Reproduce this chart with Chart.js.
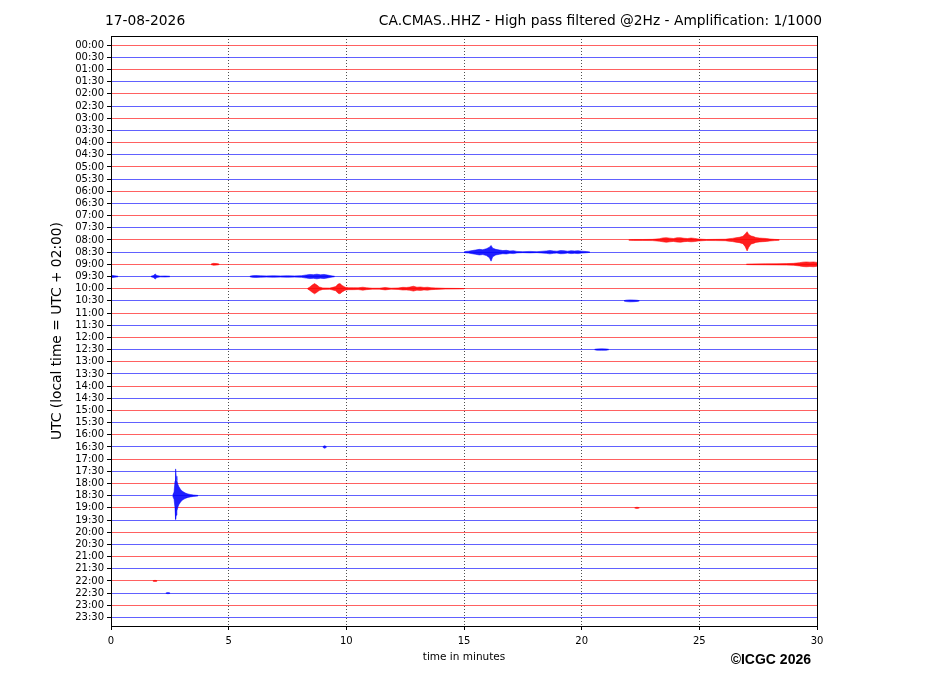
<!DOCTYPE html>
<html>
<head>
<meta charset="utf-8">
<script src="https://cdn.jsdelivr.net/npm/chart.js@4.4.1/dist/chart.umd.min.js"></script>
<style>
html,body{margin:0;padding:0;background:#fff;}
#wrap{width:927px;height:696px;position:relative;}
</style>
</head>
<body>
<div id="wrap"><canvas id="c" width="927" height="696"></canvas></div>
<script>
// ---- data ----
const dateLabel = "17-08-2026";
const titleText = "CA.CMAS..HHZ - High pass filtered @2Hz - Amplification: 1/1000";
const yTitle = "UTC (local time = UTC + 02:00)";
const xTitle = "time in minutes";
const creditText = "\u00A9ICGC 2026";
const rowLabels = ["00:00","00:30","01:00","01:30","02:00","02:30","03:00","03:30","04:00","04:30","05:00","05:30",
  "06:00","06:30","07:00","07:30","08:00","08:30","09:00","09:30","10:00","10:30","11:00","11:30",
  "12:00","12:30","13:00","13:30","14:00","14:30","15:00","15:30","16:00","16:30","17:00","17:30",
  "18:00","18:30","19:00","19:30","20:00","20:30","21:00","21:30","22:00","22:30","23:00","23:30"];
const xTicks = [0,5,10,15,20,25,30];

// envelopes of seismic signal: [minute, amplitude up, amplitude down] (in trace-row units)
const ev0800a = [[22.0,0.02,0.02],[22.2,0.04,0.04],[22.6,0.04,0.04],[23.0,0.05,0.05],[23.3,0.1,0.1],[23.45,0.17,0.15],[23.6,0.19,0.19],
  [23.75,0.15,0.15],[23.9,0.12,0.12],[24.05,0.18,0.17],[24.2,0.19,0.19],[24.35,0.14,0.14],[24.5,0.12,0.12],[24.65,0.16,0.15],
  [24.8,0.13,0.13],[24.95,0.08,0.08],[25.3,0.04,0.04],[25.7,0.05,0.05],[26.1,0.06,0.06],[26.25,0.1,0.1],[26.4,0.13,0.13],
  [26.55,0.18,0.18],[26.7,0.22,0.22],[26.85,0.3,0.3],[26.95,0.5,0.55],[27.03,0.68,0.9],[27.1,0.45,0.6],[27.2,0.33,0.33],
  [27.3,0.28,0.28],[27.4,0.2,0.2],[27.55,0.16,0.16],[27.7,0.14,0.14],[27.85,0.12,0.12],[28.0,0.08,0.08],[28.2,0.05,0.05],[28.4,0.03,0.03]];
const ev0830a = [[15.0,0.02,0.02],[15.05,0.05,0.05],[15.2,0.08,0.08],[15.35,0.13,0.13],[15.5,0.18,0.18],[15.65,0.23,0.23],[15.8,0.2,0.2],
  [15.95,0.28,0.28],[16.08,0.4,0.45],[16.15,0.55,0.74],[16.22,0.33,0.38],[16.35,0.23,0.23],[16.5,0.18,0.18],[16.65,0.13,0.13],
  [16.8,0.15,0.15],[16.95,0.1,0.1],[17.1,0.12,0.12],[17.25,0.06,0.06],[17.5,0.04,0.04],[17.8,0.06,0.06],[18.1,0.04,0.04],
  [18.5,0.1,0.1],[18.65,0.14,0.14],[18.8,0.1,0.1],[18.95,0.08,0.08],[19.1,0.13,0.13],[19.25,0.12,0.12],[19.4,0.08,0.08],
  [19.55,0.12,0.12],[19.7,0.1,0.1],[19.85,0.12,0.12],[20.0,0.08,0.08],[20.2,0.05,0.05],[20.35,0.02,0.02]];
const ev0900a = [[4.25,0.02,0.02],[4.35,0.08,0.08],[4.5,0.06,0.06],[4.6,0.02,0.02]];
const ev0900b = [[27.0,0.02,0.02],[27.2,0.03,0.03],[27.8,0.04,0.04],[28.3,0.05,0.05],[28.7,0.06,0.06],
  [29.0,0.08,0.08],[29.25,0.13,0.13],[29.4,0.18,0.18],[29.55,0.2,0.2],[29.7,0.18,0.18],[29.85,0.2,0.2],[30.0,0.16,0.16]];
const ev0930a = [[0.0,0.1,0.1],[0.15,0.06,0.06],[0.3,0.02,0.02]];
const ev0930b = [[1.7,0.02,0.02],[1.8,0.08,0.08],[1.88,0.2,0.2],[1.95,0.08,0.08],[2.1,0.03,0.03],[2.3,0.04,0.04],[2.5,0.02,0.02]];
const ev0930c = [[5.9,0.02,0.02],[6.0,0.07,0.07],[6.15,0.08,0.08],
  [6.35,0.06,0.06],[6.6,0.05,0.05],[6.9,0.06,0.06],[7.2,0.05,0.05],[7.5,0.06,0.06],[7.8,0.05,0.05],[8.1,0.07,0.07],
  [8.3,0.13,0.13],[8.45,0.17,0.17],[8.6,0.15,0.15],[8.75,0.19,0.19],[8.9,0.14,0.14],[9.05,0.17,0.17],[9.2,0.12,0.12],[9.35,0.06,0.06],[9.5,0.02,0.02]];
const ev1000a = [[8.35,0.02,0.02],[8.45,0.14,0.14],[8.55,0.3,0.3],[8.65,0.42,0.42],[8.75,0.3,0.3],[8.85,0.14,0.14],[9.0,0.06,0.06],
  [9.3,0.05,0.05],[9.55,0.17,0.17],[9.65,0.38,0.38],[9.73,0.42,0.42],[9.82,0.27,0.27],[9.95,0.12,0.12],[10.1,0.08,0.08],
  [10.3,0.08,0.08],[10.5,0.07,0.07],[10.7,0.12,0.12],[10.85,0.08,0.08],[11.1,0.04,0.04],[11.4,0.04,0.04],[11.65,0.1,0.1],
  [11.9,0.04,0.04],[12.2,0.06,0.06],[12.4,0.11,0.11],[12.55,0.1,0.1],[12.7,0.13,0.13],[12.85,0.2,0.2],[13.0,0.12,0.12],
  [13.15,0.14,0.14],[13.3,0.1,0.1],[13.45,0.12,0.12],[13.6,0.08,0.08],[13.8,0.06,0.06],[14.2,0.03,0.03],[14.8,0.02,0.02],[15.0,0.01,0.01]];
const ev1030a = [[21.8,0.02,0.02],[21.9,0.06,0.06],[22.05,0.08,0.08],[22.2,0.07,0.07],[22.35,0.05,0.05],[22.45,0.02,0.02]];
const ev1230a = [[20.55,0.02,0.02],[20.65,0.05,0.05],[20.85,0.06,0.06],[21.05,0.05,0.05],[21.15,0.02,0.02]];
const ev1630a = [[9.0,0.02,0.02],[9.08,0.11,0.11],[9.16,0.02,0.02]];
const ev1830a = [[2.62,0.03,0.03],[2.68,0.3,0.3],[2.72,1.2,1.0],[2.745,2.2,1.95],[2.77,1.6,1.6],[2.8,1.25,1.25],[2.84,0.95,0.95],[2.88,0.75,0.75],
  [2.93,0.6,0.6],[2.98,0.45,0.45],[3.04,0.36,0.36],[3.1,0.28,0.28],[3.18,0.2,0.2],[3.27,0.14,0.14],[3.37,0.1,0.1],[3.5,0.06,0.06],[3.7,0.02,0.02]];
const ev1900a = [[22.25,0.02,0.02],[22.35,0.05,0.05],[22.45,0.02,0.02]];
const ev2200a = [[1.78,0.02,0.02],[1.87,0.05,0.05],[1.96,0.02,0.02]];
const ev2230a = [[2.33,0.02,0.02],[2.42,0.05,0.05],[2.51,0.02,0.02]];

const events = [
  {row:"08:00", env:ev0800a}, {row:"08:30", env:ev0830a}, {row:"09:00", env:ev0900a}, {row:"09:00", env:ev0900b},
  {row:"09:30", env:ev0930a}, {row:"09:30", env:ev0930b}, {row:"09:30", env:ev0930c},
  {row:"10:00", env:ev1000a}, {row:"10:30", env:ev1030a}, {row:"12:30", env:ev1230a}, {row:"16:30", env:ev1630a},
  {row:"18:30", env:ev1830a}, {row:"19:00", env:ev1900a}, {row:"22:00", env:ev2200a}, {row:"22:30", env:ev2230a}
];

// ---- styling ----
const RED = "rgba(255,0,0,0.62)";
const BLUE = "rgba(0,0,255,0.62)";
const RED_S = "rgba(255,0,0,0.88)";
const BLUE_S = "rgba(0,0,255,0.88)";
const FONT = "'DejaVu Sans', sans-serif";

const datasets = [];
events.forEach(e => {
  const r = rowLabels.indexOf(e.row);
  const col = r % 2 === 0 ? RED_S : BLUE_S;
  datasets.push({
    data: e.env.map(p => ({x: p[0], y: r - p[1]})),
    borderColor: col, backgroundColor: col, borderWidth: 0.6,
    pointRadius: 0, tension: 0, fill: false
  });
  datasets.push({
    data: e.env.map(p => ({x: p[0], y: r + p[2]})),
    borderColor: col, backgroundColor: col, borderWidth: 0.6,
    pointRadius: 0, tension: 0, fill: "-1"
  });
});

const framePlugin = {
  id: "frame",
  afterDatasetsDraw(chart) {
    const {ctx, chartArea: a} = chart;
    ctx.save();
    ctx.strokeStyle = "#000";
    ctx.lineWidth = 1;
    ctx.strokeRect(Math.round(a.left) + 0.5, Math.round(a.top) + 0.5, Math.round(a.right - a.left), Math.round(a.bottom - a.top));
    ctx.restore();
  },
  afterDraw(chart) {
    const ctx = chart.ctx;
    const a = chart.chartArea;
    ctx.save();
    ctx.fillStyle = "#000";
    ctx.textBaseline = "alphabetic";
    ctx.font = "13.8px " + FONT;
    ctx.textAlign = "left";
    ctx.fillText(dateLabel, 105, 25);
    ctx.textAlign = "right";
    ctx.fillText(titleText, 822, 25);
    ctx.font = "bold 14px 'Liberation Sans', Arial, sans-serif";
    ctx.textAlign = "right";
    ctx.fillText(creditText, 811, 664);
    ctx.font = "10.5px " + FONT;
    ctx.textAlign = "center";
    ctx.textBaseline = "middle";
    ctx.fillText(xTitle, (a.left + a.right) / 2, 657);
    ctx.translate(57, (a.top + a.bottom) / 2);
    ctx.rotate(-Math.PI / 2);
    ctx.font = "13.8px " + FONT;
    ctx.fillText(yTitle, 0, 0);
    ctx.restore();
  }
};

new Chart(document.getElementById("c"), {
  type: "line",
  data: { datasets },
  options: {
    responsive: false,
    animation: false,
    devicePixelRatio: 1,
    layout: { padding: { left: 0, top: 36, right: 110, bottom: 0 } },
    plugins: { legend: { display: false }, tooltip: { enabled: false }, title: { display: false }, filler: { propagate: false } },
    scales: {
      x: {
        type: "linear",
        min: 0, max: 30,
        offset: false,
        afterBuildTicks: s => { s.ticks = xTicks.map(v => ({value: v})); },
        afterFit: s => { s.height = 70; },
        ticks: { font: { family: FONT, size: 10 }, color: "#000", padding: 5, maxRotation: 0 },
        grid: {
          offset: false,
          color: c => (c.tick && (c.tick.value === 0 || c.tick.value === 30)) ? "rgba(0,0,0,0)" : "rgba(60,60,60,0.9)",
          lineWidth: 1,
          tickColor: "#000",
          tickLength: 4,
          tickBorderDash: [],
          drawTicks: true
        },
        border: { display: false, dash: [1, 2] }
      },
      y: {
        type: "linear",
        reverse: true,
        min: -0.75, max: 47.7,
        afterBuildTicks: s => { s.ticks = rowLabels.map((_, i) => ({value: i})); },
        afterFit: s => { s.width = 111; },
        ticks: {
          font: { family: FONT, size: 10 }, color: "#000", padding: 3, autoSkip: false,
          callback: v => rowLabels[v]
        },
        grid: {
          offset: false,
          color: c => (c.tick && c.tick.value % 2 === 1) ? BLUE : RED,
          lineWidth: 1,
          tickColor: "#000",
          tickLength: 4,
          drawTicks: true
        },
        border: { display: false }
      }
    }
  },
  plugins: [framePlugin]
});
</script>
</body>
</html>
